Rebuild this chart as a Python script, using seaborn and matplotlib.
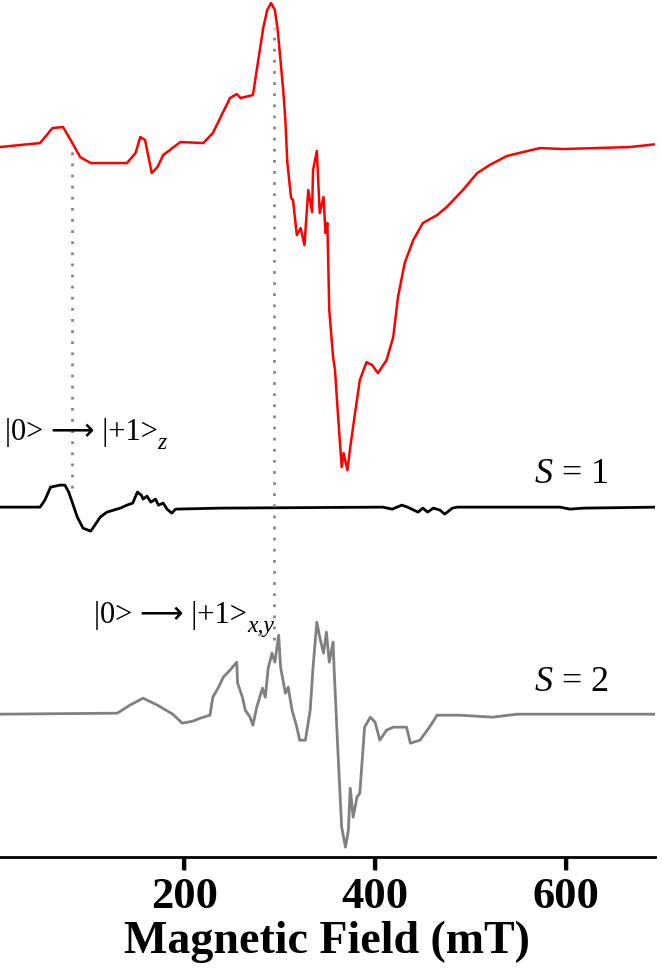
import numpy as np
import pandas as pd
import matplotlib
matplotlib.use("Agg")
import matplotlib.pyplot as plt
import seaborn as sns

# experimental spectrum (red), field in mT, intensity in a.u.
exp_field = [7, 28, 49, 62, 73, 81, 91, 102, 122, 140, 149, 154, 159, 166, 172, 178, 196, 220,
             230, 248, 255, 259, 272, 276, 283, 287, 291, 295, 298, 304, 306, 308, 312, 314,
             318, 322, 326, 330, 334, 335, 339, 342, 346, 348, 350, 352, 356, 358, 361, 365,
             367, 371, 374, 379, 384, 391, 397, 403, 412, 419, 424, 431, 440, 450, 465, 475,
             492, 507, 520, 538, 555, 573, 597, 632, 667, 696]
exp_signal = [0, 2, 4, 19, 20, 7, -10, -16, -16, -16, -6, 10, 7, -26, -20, -8, 5, 4,
              14, 49, 53, 49, 52, 77, 120, 137, 144, 137, 117, 54, 27, -15, -51, -53,
              -88, -81, -98, -43, -65, -23, -4, -66, -50, -86, -76, -163, -210, -223, -266, -320,
              -306, -323, -300, -266, -233, -215, -218, -226, -213, -190, -150, -116, -93, -76, -68, -60,
              -43, -26, -18, -9, -5, -1, -2, -1, 0, 3]

# simulation S = 1 (black)
s1_field = [7, 28, 49, 54, 60, 70, 75, 79, 83, 88, 94, 102, 105, 112, 119, 133, 140, 146,
            151, 155, 157, 161, 165, 170, 173, 178, 182, 187, 191, 238, 408, 418, 428, 434,
            445, 450, 455, 461, 468, 473, 481, 486, 594, 604, 618, 696]
s1_signal = [0, 0, 0, 7, 20, 22, 22, 15, 4, -10, -21, -24, -20, -10, -5, -1, 2, 4,
             15, 12, 8, 11, 5, 8, 2, 4, -2, -6, -2, -1, 0, -2, 2, 0,
             -5, -1, -5, -1, -3, -7, -1, 0, 0, -2, -1, 0]

# simulation S = 2 (grey)
s2_field = [7, 130, 143, 157, 172, 188, 198, 209, 217, 227, 230, 236, 241, 248, 255, 256, 261,
            264, 269, 272, 276, 282, 285, 288, 292, 295, 299, 301, 306, 309, 313, 318, 321,
            327, 332, 335, 339, 342, 346, 349, 352, 356, 357, 361, 365, 369, 372, 374, 377,
            381, 384, 389, 395, 400, 405, 412, 419, 433, 437, 447, 457, 465, 489, 523, 549, 696]
s2_signal = [0, 1, 9, 16, 9, 0, -9, -7, -4, -1, 17, 27, 37, 44, 52, 31, 17,
             4, -3, -11, 7, 26, 17, 46, 61, 52, 79, 47, 21, 27, 4, -13, -26,
             -26, 4, 47, 92, 77, 61, 82, 52, 72, 47, -36, -113, -133, -116, -74, -103,
             -83, -79, -13, -3, -8, -26, -16, -13, -13, -29, -26, -13, -1, -1, -3, 0, 0]

tick_values = [200, 400, 600]

traces = ["exp", "S1", "S2"]
offsets = {"exp": -147, "S1": -507, "S2": -714}
colors = {"exp": "#ff0000", "S1": "#000000", "S2": "#808080"}

transition_z = 82
transition_xy = 294

frames = []
for name, f, s in [("exp", exp_field, exp_signal), ("S1", s1_field, s1_signal), ("S2", s2_field, s2_signal)]:
    d = pd.DataFrame({"field": f, "signal": np.array(s) + offsets[name]})
    d["trace"] = name
    frames.append(d)
df = pd.concat(frames, ignore_index=True)

sns.set_style("ticks")
plt.rcParams["font.family"] = ["Liberation Serif", "DejaVu Sans"]
plt.rcParams["mathtext.fontset"] = "custom"
plt.rcParams["mathtext.rm"] = "Liberation Serif"
plt.rcParams["mathtext.it"] = "Liberation Serif:italic"
plt.rcParams["text.color"] = "black"

fig = plt.figure(figsize=(6.62, 9.73), dpi=100)
ax = fig.add_axes([0.0, 0.119, 0.989, 0.881])

for name in traces:
    sub = df[df["trace"] == name]
    sns.lineplot(data=sub, x="field", y="signal", sort=False, color=colors[name],
                 lw=2.0 if name != "exp" else 1.8, ax=ax, legend=False)

# dotted guide lines
ax.vlines(transition_z, -488, -145, colors="#888888", linestyles=(0, (1, 3)), lw=2)
ax.vlines(transition_xy, -640, -28, colors="#888888", linestyles=(0, (1, 3)), lw=2)

# transition labels: main text + italic subscript placed right after it
for x0, y0, sub in [(12, -432, "z"), (106, -615, "x,y")]:
    t = ax.text(x0, y0, "|0> \u27f6 |+1>", fontsize=22, va="center", ha="left",
                family=["Liberation Serif", "DejaVu Sans"])
    ax.annotate(sub, xy=(1, 0.12), xycoords=t, fontsize=17, style="italic",
                va="center", ha="left", family=["Liberation Serif"])

ax.text(567, -474, r"$\mathit{S}$ = 1", fontsize=26, va="center", ha="left")
ax.text(567, -682, r"$\mathit{S}$ = 2", fontsize=26, va="center", ha="left")

ax.set_xlim(7, 693)
ax.set_ylim(-857, 0)
ax.set_yticks([])
ax.set_xticks(tick_values)
for sp in ["left", "right", "top"]:
    ax.spines[sp].set_visible(False)
ax.spines["bottom"].set_linewidth(2)
ax.spines["bottom"].set_color("black")
ax.tick_params(axis="x", bottom=True, direction="out", length=9, width=2.5,
               labelsize=32, pad=5, color="black", labelcolor="black")
# tick marks also drawn explicitly below the spine
ax.vlines(tick_values, -0.015, 0, colors="black", lw=3,
          transform=ax.get_xaxis_transform(), clip_on=False, zorder=5)
for lab in ax.get_xticklabels():
    lab.set_fontweight("bold")
ax.set_xlabel("Magnetic Field (mT)", fontsize=33, fontweight="bold", labelpad=3, color="black")
ax.set_ylabel("")

fig.savefig("out.png", dpi=100)
